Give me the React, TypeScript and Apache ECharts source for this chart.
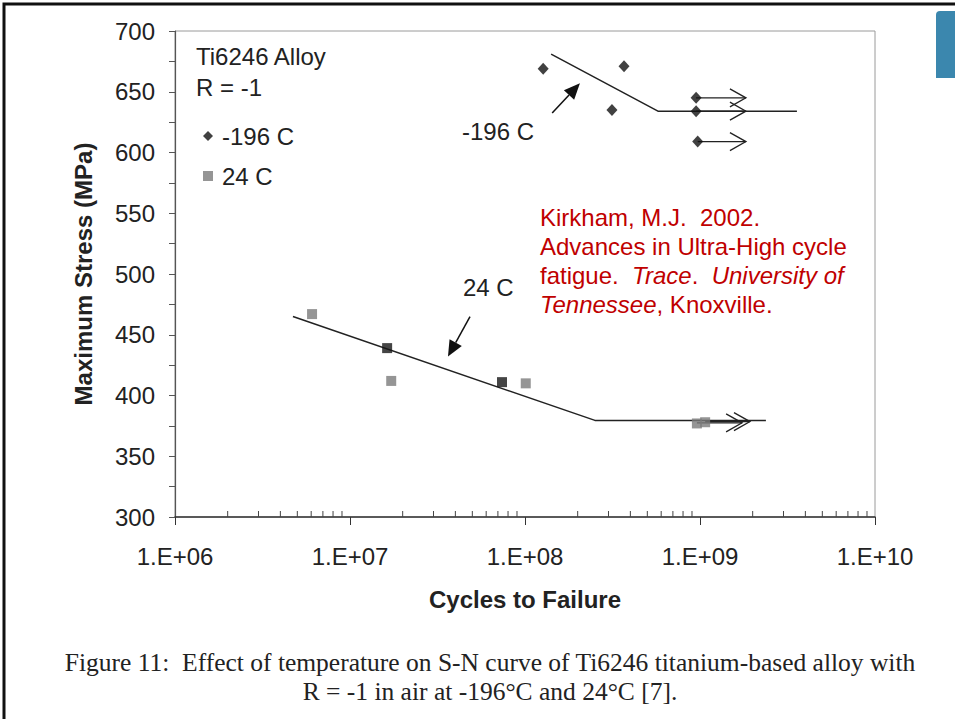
import React, { useEffect, useRef } from "react";
import * as echarts from "echarts";

// ---- data (cycles to failure, max stress MPa) ----
const coldPoints = [
  [1.27e8, 669], [3.68e8, 671], [3.14e8, 635],
  [9.5e8, 645], [9.5e8, 634], [9.7e8, 609],
];
const warmPointsGray = [
  [6.07e6, 467], [1.72e7, 412], [1.01e8, 410], [9.6e8, 377], [1.07e9, 378],
];
const warmPointsDark = [
  [1.63e7, 439], [7.39e7, 411],
];
const coldFitLine = [[1.41e8, 681], [5.75e8, 634], [3.58e9, 634]];
const warmFitLine = [[4.72e6, 465], [2.51e8, 379.5], [2.38e9, 379.5]];
// run-outs: [start cycles, stress, arrow tip cycles]
const runouts = [
  [9.5e8, 645, 1.83e9], [9.5e8, 634, 1.83e9], [9.7e8, 609, 1.83e9],
  [9.6e8, 377.5, 1.74e9], [1.07e9, 378.5, 1.93e9],
];
// pointer arrows: [tail cycles, tail stress, tip cycles, tip stress]
const pointers = [
  [1.43e8, 632.5, 2.06e8, 657],
  [4.85e7, 465, 3.63e7, 432],
];
const seriesNames = ["-196 C", "24 C"];
const xDecades = [1e6, 1e7, 1e8, 1e9, 1e10];
const yRange = [300, 700];

const minorTicks: number[][] = [];
for (let d = 0; d < xDecades.length - 1; d++) {
  for (let k = 2; k <= 9; k++) minorTicks.push([k * xDecades[d], yRange[0]]);
}

const SANS = "'Liberation Sans', Arial, sans-serif";
const SERIF = "'Liberation Serif', 'Times New Roman', serif";
const RED = "#c00000";

export default function App() {
  const ref = useRef<HTMLDivElement>(null);
  useEffect(() => {
    document.body.style.margin = "0";
    const chart = echarts.init(ref.current!, null, { renderer: "svg" });
    const fmtX = (v: number) => {
      const e = Math.round(Math.log10(v));
      return "1.E+" + (e < 10 ? "0" + e : String(e));
    };
    const txt = (text: string, x: number, y: number, extra: any = {}) => ({
      type: "text",
      x,
      y,
      silent: true,
      style: {
        text,
        fontFamily: SANS,
        fontSize: 24,
        fill: "#222",
        verticalAlign: "middle",
        align: "left",
        ...extra,
      },
    });
    const redRich = {
      n: { fontFamily: SANS, fontSize: 24, fill: RED },
      i: { fontFamily: SANS, fontSize: 24, fill: RED, fontStyle: "italic" },
    };
    chart.setOption({
      animation: false,
      backgroundColor: "#fff",
      grid: {
        left: 175,
        top: 31,
        right: 80,
        bottom: 202,
        show: true,
        borderColor: "#9a9a9a",
        borderWidth: 1,
      },
      legend: {
        data: [
          { name: seriesNames[0], icon: "diamond" },
          { name: seriesNames[1], icon: "rect" },
        ],
        orient: "vertical",
        left: 198,
        top: 119,
        itemWidth: 10,
        itemHeight: 10,
        itemGap: 16,
        selectedMode: false,
        textStyle: { fontFamily: SANS, fontSize: 24, color: "#222", padding: [0, 0, 0, 4] },
      },
      xAxis: {
        type: "log",
        logBase: 10,
        min: xDecades[0],
        max: xDecades[xDecades.length - 1],
        splitNumber: 4,
        name: "Cycles to Failure",
        nameLocation: "middle",
        nameGap: 70,
        nameTextStyle: { fontFamily: SANS, fontSize: 24, fontWeight: "bold", color: "#222" },
        axisLine: { lineStyle: { color: "#333", width: 1.5 } },
        axisTick: { show: true, inside: false, length: 8, lineStyle: { color: "#333" } },
        axisLabel: {
          formatter: fmtX,
          margin: 27,
          fontFamily: SANS,
          fontSize: 24,
          color: "#222",
          showMinLabel: true,
          showMaxLabel: true,
        },
        splitLine: { show: false },
        minorTick: { show: false },
      },
      yAxis: {
        type: "value",
        min: yRange[0],
        max: yRange[1],
        interval: 25,
        name: "Maximum Stress (MPa)",
        nameLocation: "middle",
        nameGap: 80,
        nameTextStyle: { fontFamily: SANS, fontSize: 24, fontWeight: "bold", color: "#222" },
        axisLine: { show: true, lineStyle: { color: "#555", width: 1.2 } },
        axisTick: { show: true, inside: false, length: 6, lineStyle: { color: "#555" } },
        axisLabel: {
          formatter: (v: number) => (v % 50 === 0 ? String(v) : ""),
          margin: 20,
          fontFamily: SANS,
          fontSize: 24,
          color: "#222",
        },
        splitLine: { show: false },
      },
      series: [
        {
          name: "fit -196",
          type: "line",
          data: coldFitLine,
          symbol: "none",
          lineStyle: { color: "#222", width: 1.5 },
          z: 2,
          silent: true,
        },
        {
          name: "fit 24",
          type: "line",
          data: warmFitLine,
          symbol: "none",
          lineStyle: { color: "#222", width: 1.5 },
          z: 2,
          silent: true,
        },
        {
          name: "runouts",
          type: "custom",
          data: runouts,
          encode: { x: [0, 2], y: 1 },
          z: 3,
          silent: true,
          renderItem: (params: any, api: any) => {
            const p0 = api.coord([api.value(0), api.value(1)]);
            const p1 = api.coord([api.value(2), api.value(1)]);
            return {
              type: "group",
              children: [
                {
                  type: "line",
                  shape: { x1: p0[0], y1: p0[1], x2: p1[0], y2: p1[1] },
                  style: { stroke: "#222", lineWidth: 1.3 },
                },
                {
                  type: "polyline",
                  shape: { points: [[p1[0] - 16, p1[1] - 9], [p1[0], p1[1]], [p1[0] - 16, p1[1] + 9]] },
                  style: { stroke: "#222", fill: "none", lineWidth: 1.3 },
                },
              ],
            };
          },
        },
        {
          name: "pointers",
          type: "custom",
          data: pointers,
          encode: { x: [0, 2], y: [1, 3] },
          z: 3,
          silent: true,
          renderItem: (params: any, api: any) => {
            const a = api.coord([api.value(0), api.value(1)]);
            const b = api.coord([api.value(2), api.value(3)]);
            const dx = b[0] - a[0];
            const dy = b[1] - a[1];
            const len = Math.sqrt(dx * dx + dy * dy);
            const ux = dx / len;
            const uy = dy / len;
            const hl = 16;
            const hw = 7;
            const bx = b[0] - ux * hl;
            const by = b[1] - uy * hl;
            return {
              type: "group",
              children: [
                {
                  type: "line",
                  shape: { x1: a[0], y1: a[1], x2: bx, y2: by },
                  style: { stroke: "#111", lineWidth: 1.5 },
                },
                {
                  type: "polygon",
                  shape: {
                    points: [
                      [b[0], b[1]],
                      [bx - uy * hw, by + ux * hw],
                      [bx + uy * hw, by - ux * hw],
                    ],
                  },
                  style: { fill: "#111" },
                },
              ],
            };
          },
        },
        {
          name: "minor ticks",
          type: "custom",
          data: minorTicks,
          encode: { x: 0, y: 1 },
          z: 4,
          silent: true,
          renderItem: (params: any, api: any) => {
            const p = api.coord([api.value(0), api.value(1)]);
            return {
              type: "line",
              shape: { x1: p[0], y1: p[1], x2: p[0], y2: p[1] - 6 },
              style: { stroke: "#444", lineWidth: 1 },
            };
          },
        },
        {
          name: seriesNames[0],
          type: "scatter",
          data: coldPoints,
          symbol: "diamond",
          symbolSize: [11, 12],
          itemStyle: { color: "#111" },
          z: 5,
        },
        {
          name: seriesNames[1],
          type: "scatter",
          data: [
            ...warmPointsGray.map((p) => ({ value: p })),
            ...warmPointsDark.map((p) => ({ value: p, itemStyle: { color: "#161616" } })),
          ],
          symbol: "rect",
          symbolSize: 10,
          itemStyle: { color: "#7a7a7a" },
          z: 5,
        },
      ],
      graphic: [
        {
          type: "rect",
          silent: true,
          shape: { x: 4, y: 4, width: 1100, height: 900 },
          style: { fill: "none", stroke: "#111", lineWidth: 3 },
        },
        {
          type: "rect",
          silent: true,
          shape: { x: 936, y: 11, width: 30, height: 67, r: [4, 0, 0, 0] },
          style: { fill: "#3b87ae" },
        },
        txt("Ti6246 Alloy", 196, 56),
        txt("R = -1", 196, 87),
        txt("-196 C", 462, 131),
        txt("24 C", 463, 287),
        txt("Kirkham, M.J.  2002.", 540, 217, { fill: RED }),
        txt("Advances in Ultra-High cycle", 540, 246, { fill: RED }),
        txt("{n|fatigue.  }{i|Trace}{n|.  }{i|University of}", 540, 275, { fill: RED, rich: redRich }),
        txt("{i|Tennessee}{n|, Knoxville.}", 540, 304, { fill: RED, rich: redRich }),
        txt("Figure 11:  Effect of temperature on S-N curve of Ti6246 titanium-based alloy with", 490, 662, {
          fontFamily: SERIF,
          fontSize: 25.5,
          align: "center",
        }),
        txt("R = -1 in air at -196°C and 24°C [7].", 490, 691, {
          fontFamily: SERIF,
          fontSize: 25.5,
          align: "center",
        }),
      ],
    });
    return () => chart.dispose();
  }, []);
  return <div ref={ref} style={{ width: 955, height: 719 }} />;
}
